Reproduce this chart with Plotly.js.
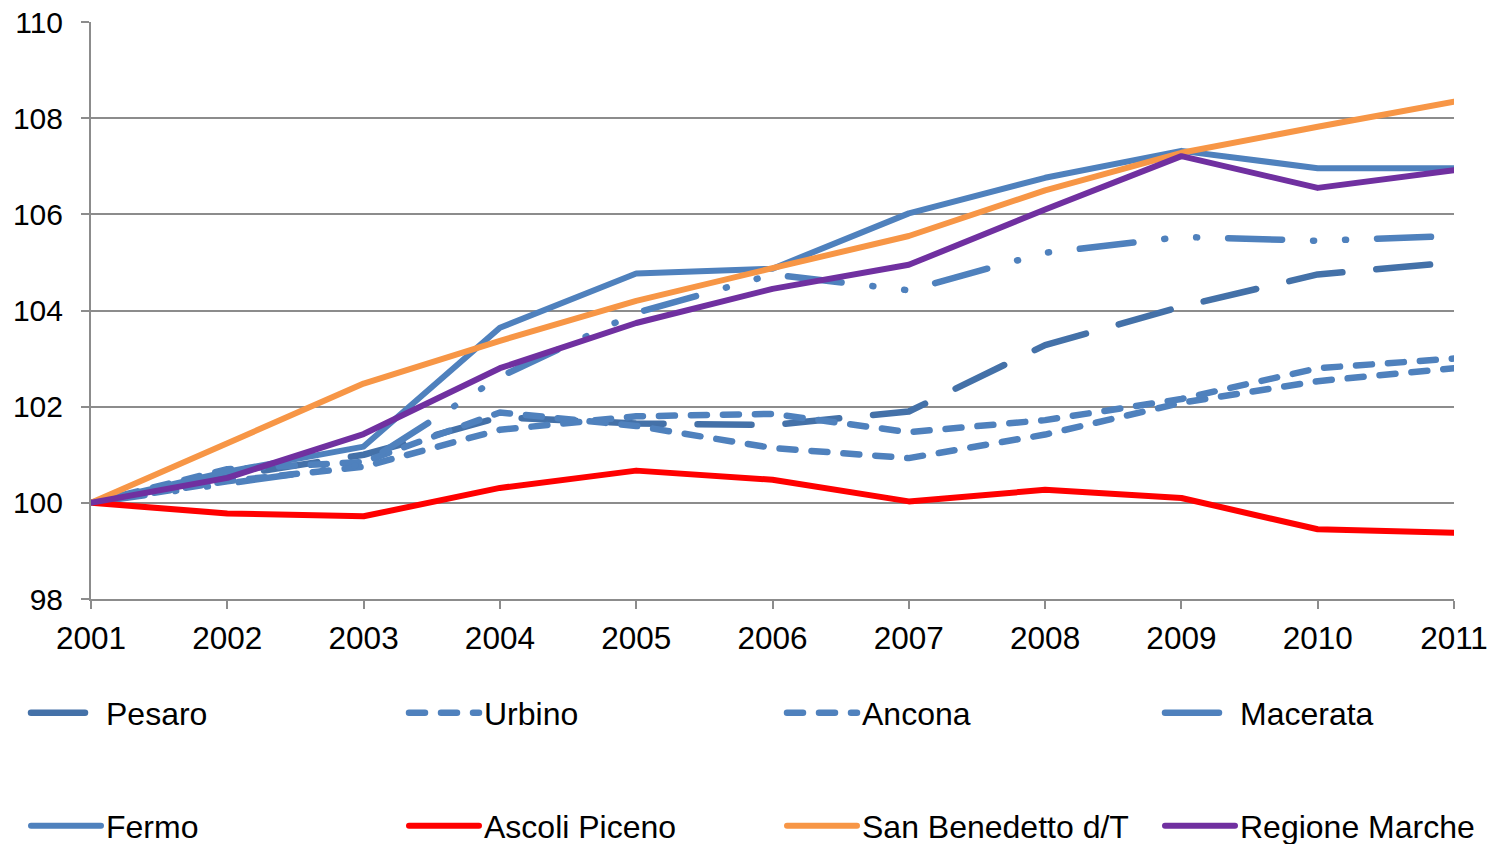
<!DOCTYPE html>
<html>
<head>
<meta charset="utf-8">
<script src="https://cdn.plot.ly/plotly-3.0.1.min.js"></script>
<style>
  html, body { margin: 0; padding: 0; background: #ffffff; }
  #chart { width: 1506px; height: 844px; }
  .js-line, .legendlines path { stroke-linecap: round !important; stroke-linejoin: round !important; }
</style>
</head>
<body>
<div id="chart"></div>
<script>
const years = [2001, 2002, 2003, 2004, 2005, 2006, 2007, 2008, 2009, 2010, 2011];

const pesaro       = [100, 100.55, 101.00, 101.78, 101.65, 101.62, 101.90, 103.28, 104.08, 104.75, 105.00];
const urbino       = [100, 100.70, 100.85, 101.88, 101.60, 101.14, 100.93, 101.42, 102.08, 102.53, 102.80];
const ancona       = [100, 100.45, 100.75, 101.52, 101.80, 101.85, 101.47, 101.72, 102.16, 102.80, 103.00];
const macerata     = [100, 100.40, 100.80, 102.62, 103.95, 104.75, 104.42, 105.20, 105.53, 105.45, 105.55];
const fermo        = [100, 100.65, 101.17, 103.64, 104.77, 104.87, 106.02, 106.76, 107.32, 106.96, 106.96];
const ascoli       = [100, 99.78, 99.72, 100.31, 100.67, 100.48, 100.03, 100.27, 100.10, 99.45, 99.38];
const sanBenedetto = [100, 101.25, 102.48, 103.37, 104.20, 104.88, 105.55, 106.50, 107.28, 107.82, 108.34];
const regione      = [100, 100.52, 101.43, 102.80, 103.74, 104.45, 104.95, 106.10, 107.21, 106.55, 106.92];

const seriesNames = ["Pesaro", "Urbino", "Ancona", "Macerata", "Fermo", "Ascoli Piceno", "San Benedetto d/T", "Regione Marche"];
const seriesValues = [pesaro, urbino, ancona, macerata, fermo, ascoli, sanBenedetto, regione];
const seriesColors = ["#4471A8", "#4F81BD", "#4F81BD", "#4F81BD", "#4F81BD", "#FF0000", "#F79646", "#7030A0"];
const seriesDash = ["54px,34px", "16px,16px", "16px,16px", "54px,31px,1px,31px,1px,31px", "solid", "solid", "solid", "solid"];
const seriesWidth = [6.5, 6.5, 6.5, 6.5, 6, 6, 6, 6];
const seriesLegend = ["legend", "legend", "legend", "legend", "legend2", "legend2", "legend2", "legend2"];
const seriesLegendWidth = [293, 293, 293, 238, 293, 293, 293, 238];

const data = seriesNames.map((name, i) => ({
  type: "scatter",
  mode: "lines",
  name: name,
  x: years,
  y: seriesValues[i],
  line: { color: seriesColors[i], width: seriesWidth[i], dash: seriesDash[i] },
  legend: seriesLegend[i],
  legendwidth: seriesLegendWidth[i],
  hoverinfo: "skip"
}));

const font = "Liberation Sans, Arial, sans-serif";
const legendCommon = {
  orientation: "h",
  xref: "paper",
  yref: "paper",
  xanchor: "left",
  yanchor: "middle",
  x: (26 - 91) / 1363,
  entrywidth: 293,
  entrywidthmode: "pixels",
  itemwidth: 70,
  bgcolor: "rgba(0,0,0,0)",
  borderwidth: 0,
  font: { family: font, size: 32, color: "#000000" },
  traceorder: "normal"
};

const layout = {
  width: 1506,
  height: 844,
  margin: { l: 91, r: 52, t: 22, b: 245, autoexpand: false },
  paper_bgcolor: "#ffffff",
  plot_bgcolor: "#ffffff",
  showlegend: true,
  xaxis: {
    range: [2001, 2011],
    tick0: 2001,
    dtick: 1,
    showgrid: false,
    zeroline: false,
    showline: true,
    linecolor: "#8C8C8C",
    linewidth: 2,
    ticks: "outside",
    ticklen: 8,
    tickwidth: 2,
    tickcolor: "#8C8C8C",
    ticklabelstandoff: 2,
    tickfont: { family: font, size: 31.5, color: "#000000" }
  },
  yaxis: {
    range: [98, 110],
    tick0: 98,
    dtick: 2,
    showgrid: true,
    gridcolor: "#8C8C8C",
    gridwidth: 2,
    zeroline: false,
    showline: true,
    linecolor: "#8C8C8C",
    linewidth: 2,
    ticks: "outside",
    ticklen: 8,
    tickwidth: 2,
    tickcolor: "#8C8C8C",
    ticklabelstandoff: 12,
    tickfont: { family: font, size: 30, color: "#000000" }
  },
  legend: Object.assign({}, legendCommon, { y: (599 - 713) / 577 }),
  legend2: Object.assign({}, legendCommon, { y: (599 - 826) / 577 })
};

Plotly.newPlot("chart", data, layout, { staticPlot: true, displayModeBar: false });
</script>
</body>
</html>
